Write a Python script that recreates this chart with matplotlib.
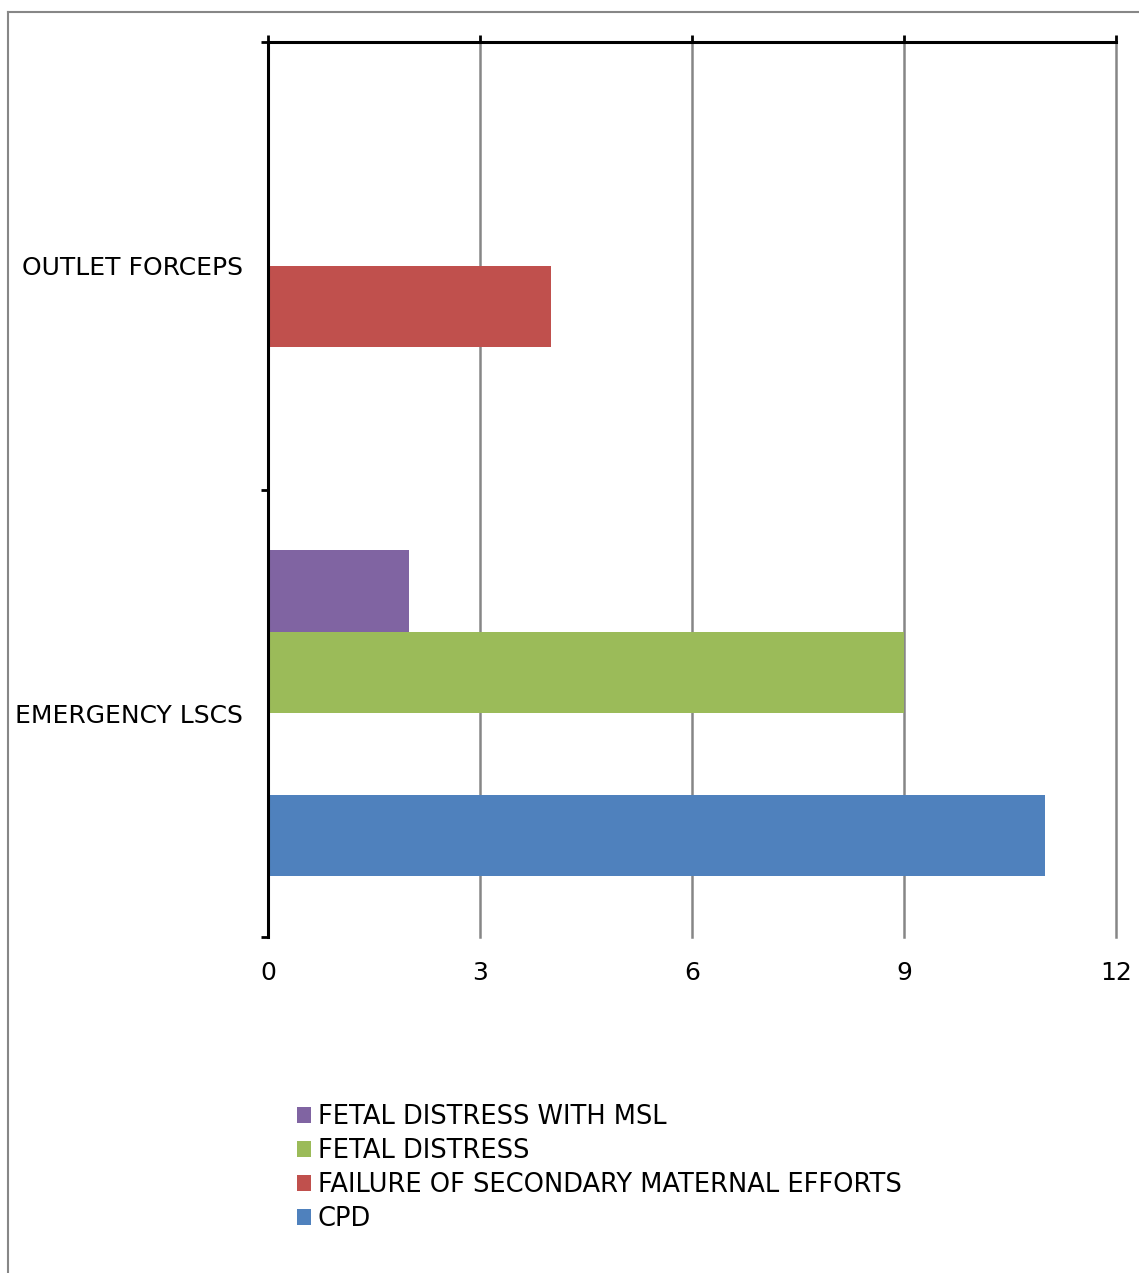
import matplotlib
matplotlib.use("Agg")
import matplotlib.pyplot as plt
from matplotlib.lines import Line2D
import numpy as np

plt.rcParams['font.family'] = ['DejaVu Sans']

# Delivery mode categories (bottom to top) and the indication series
categories = ["EMERGENCY LSCS", "OUTLET FORCEPS"]
series_names = ["CPD", "FAILURE OF SECONDARY MATERNAL EFFORTS",
                "FETAL DISTRESS", "FETAL DISTRESS WITH MSL"]
cpd = [11, 0]
failure_secondary = [0, 4]
fetal_distress = [9, 0]
fetal_distress_msl = [2, 0]
x_ticks = [0, 3, 6, 9, 12]

series_values = [cpd, failure_secondary, fetal_distress, fetal_distress_msl]
colors = ["#4F81BD", "#C0504D", "#9BBB59", "#8064A2"]

FS = 18

W, H = 1139, 1273
fig = plt.figure(figsize=(W / 100, H / 100), dpi=100)
ax = fig.add_axes([268 / W, 1 - 937 / H, (1116 - 268) / W, (937 - 42) / H])

ypos = np.arange(len(categories))
h = 0.182
n = len(series_names)
handles = []
for i, (name, vals, c) in enumerate(zip(series_names, series_values, colors)):
    off = (i - (n - 1) / 2) * h
    b = ax.barh(ypos + off, vals, height=h, color=c, label=name, zorder=3)
    handles.append(b)

ax.set_xlim(0, 12)
ax.set_ylim(-0.5, len(categories) - 0.5)

# vertical gridlines at the value ticks
ax.set_xticks(x_ticks)
ax.set_xticklabels([str(v) for v in x_ticks])
ax.grid(axis='x', color='#868686', linewidth=1.8, zorder=1)
ax.grid(axis='y', visible=False)
for gl in ax.get_xgridlines():
    gl.set_clip_on(False)
ax.tick_params(axis='x', which='major', top=True, bottom=False, labeltop=False,
               labelbottom=True, direction='out', length=5, width=2,
               color='black', labelsize=FS, pad=12)

# category boundaries as major ticks, labels centred via minor ticks
ax.set_yticks(np.arange(-0.5, len(categories), 1.0))
ax.set_yticklabels([])
ax.set_yticks(ypos, minor=True)
ax.set_yticklabels(categories, minor=True)
ax.tick_params(axis='y', which='major', left=True, direction='out', length=5,
               width=2, color='black')
ax.tick_params(axis='y', which='minor', left=False, length=0, labelsize=FS,
               pad=18)

for s in ['right', 'bottom']:
    ax.spines[s].set_visible(False)
for s in ['left', 'top']:
    ax.spines[s].set_color('black')
    ax.spines[s].set_linewidth(2.2)
    ax.spines[s].set_zorder(4)

# legend, reversed order
leg = fig.legend(handles[::-1], [hd.get_label() for hd in handles[::-1]],
                 loc='upper left', bbox_to_anchor=(297 / W, 1 - 1104 / H),
                 borderaxespad=0, frameon=False, fontsize=18.5,
                 handlelength=0.55, handleheight=0.55,
                 handletextpad=0.25, labelspacing=0.31, borderpad=0)

# outer chart frame (top and left edges visible)
fig.add_artist(Line2D([8 / W, 8 / W], [0, 1 - 12 / H], transform=fig.transFigure,
                      color='#878787', linewidth=1.5))
fig.add_artist(Line2D([8 / W, 1], [1 - 12 / H, 1 - 12 / H], transform=fig.transFigure,
                      color='#878787', linewidth=1.5))

fig.savefig("out.png", dpi=100)
